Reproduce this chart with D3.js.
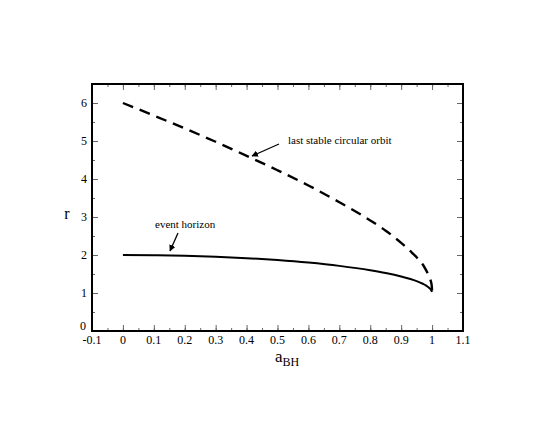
<!DOCTYPE html>
<html>
<head>
<meta charset="utf-8">
<script src="https://cdn.jsdelivr.net/npm/d3@7"></script>
<style>
  body { margin: 0; background: #fff; }
  svg { display: block; }
  text { font-family: "Liberation Serif", "DejaVu Serif", serif; fill: #000; }
</style>
</head>
<body>
<script>
// spin parameter of the black hole
const spin = [0, 0.1, 0.2, 0.3, 0.4, 0.5, 0.6, 0.7, 0.8, 0.85, 0.9, 0.93, 0.95, 0.97, 0.98, 0.99, 0.995, 0.999, 1.0];
// last stable circular orbit radius
const riscoVals = [6.0, 5.67, 5.33, 4.98, 4.61, 4.23, 3.83, 3.39, 2.91, 2.64, 2.32, 2.10, 1.94, 1.75, 1.61, 1.45, 1.34, 1.18, 1.03];
// event horizon radius
const horizonVals = [2.0, 1.995, 1.98, 1.954, 1.917, 1.866, 1.80, 1.714, 1.60, 1.527, 1.436, 1.368, 1.312, 1.243, 1.199, 1.141, 1.10, 1.045, 1.03];

const xTicks = [-0.1, 0, 0.1, 0.2, 0.3, 0.4, 0.5, 0.6, 0.7, 0.8, 0.9, 1, 1.1];
const yTicks = [0, 1, 2, 3, 4, 5, 6];

const width = 545, height = 424;
const margin = {left: 92, top: 84, right: 82, bottom: 93};
const iw = width - margin.left - margin.right, ih = height - margin.top - margin.bottom;

const svg = d3.select("body").append("svg").attr("width", width).attr("height", height);
const g = svg.append("g").attr("transform", `translate(${margin.left},${margin.top})`);

const x = d3.scaleLinear().domain([-0.1, 1.1]).range([0, iw]);
const y = d3.scaleLinear().domain([0, 6.5]).range([ih, 0]);

const fmt = d => String(d);
const xMinor = d3.range(-0.1, 1.1001, 0.05).map(d => +d.toFixed(2));
const yMinor = d3.range(0, 6.5001, 0.5);

// ticks, all pointing inward
function tickSet(axisFn, scale, vals, len, tr) {
  const a = g.append("g").attr("transform", tr)
    .call(axisFn(scale).tickValues(vals).tickSize(len).tickFormat(""));
  a.select(".domain").remove();
  a.selectAll("line").attr("stroke", "#666").attr("stroke-width", 1);
  return a;
}
tickSet(d3.axisTop, x, xMinor, 3, `translate(0,${ih})`);
tickSet(d3.axisTop, x, xTicks, 6, `translate(0,${ih})`);
tickSet(d3.axisBottom, x, xMinor, 3, "translate(0,0)");
tickSet(d3.axisBottom, x, xTicks, 6, "translate(0,0)");
tickSet(d3.axisRight, y, yMinor, 3, "translate(0,0)");
tickSet(d3.axisRight, y, yTicks, 6, "translate(0,0)");
tickSet(d3.axisLeft, y, yMinor, 3, `translate(${iw},0)`);
tickSet(d3.axisLeft, y, yTicks, 6, `translate(${iw},0)`);

// tick labels
g.append("g").selectAll("text").data(xTicks).join("text")
  .attr("x", d => x(d)).attr("y", ih + 13)
  .attr("text-anchor", "middle").attr("font-size", 12)
  .text(fmt);
g.append("g").selectAll("text").data(yTicks).join("text")
  .attr("x", d => d === 0 ? -6 : -5).attr("y", d => y(d) + (d === 0 ? -1 : 4))
  .attr("text-anchor", "end").attr("font-size", 12)
  .text(fmt);

// frame
g.append("rect").attr("width", iw).attr("height", ih)
  .attr("fill", "none").attr("stroke", "#000").attr("stroke-width", 2);

// curves
const line = d3.line().x(d => x(d[0])).y(d => y(d[1])).curve(d3.curveMonotoneX);
g.append("path").datum(d3.zip(spin, riscoVals)).attr("d", line)
  .attr("fill", "none").attr("stroke", "#000").attr("stroke-width", 2.4)
  .attr("stroke-dasharray", "11,7");
g.append("path").datum(d3.zip(spin, horizonVals)).attr("d", line)
  .attr("fill", "none").attr("stroke", "#000").attr("stroke-width", 2);

// axis titles
svg.append("text").attr("x", 67).attr("y", 219).attr("text-anchor", "middle")
  .attr("font-size", 16).text("r");
const xt = svg.append("text").attr("x", 287).attr("y", 362).attr("text-anchor", "middle")
  .attr("font-size", 17);
xt.append("tspan").text("a");
xt.append("tspan").attr("font-size", 12).attr("dy", 4).text("BH");

// annotations
svg.append("defs").append("marker").attr("id", "ah")
  .attr("viewBox", "0 0 10 10").attr("refX", 9).attr("refY", 5)
  .attr("markerWidth", 5).attr("markerHeight", 5).attr("orient", "auto")
  .append("path").attr("d", "M0,0L10,5L0,10z").attr("fill", "#000");

svg.append("text").attr("x", 155).attr("y", 228).attr("font-size", 11).text("event horizon");
svg.append("line").attr("x1", 178).attr("y1", 233).attr("x2", 170).attr("y2", 251)
  .attr("stroke", "#000").attr("stroke-width", 1.3).attr("marker-end", "url(#ah)");

svg.append("text").attr("x", 288).attr("y", 144).attr("font-size", 11).text("last stable circular orbit");
svg.append("line").attr("x1", 279).attr("y1", 144).attr("x2", 252).attr("y2", 156)
  .attr("stroke", "#000").attr("stroke-width", 1.3).attr("marker-end", "url(#ah)");
</script>
</body>
</html>
